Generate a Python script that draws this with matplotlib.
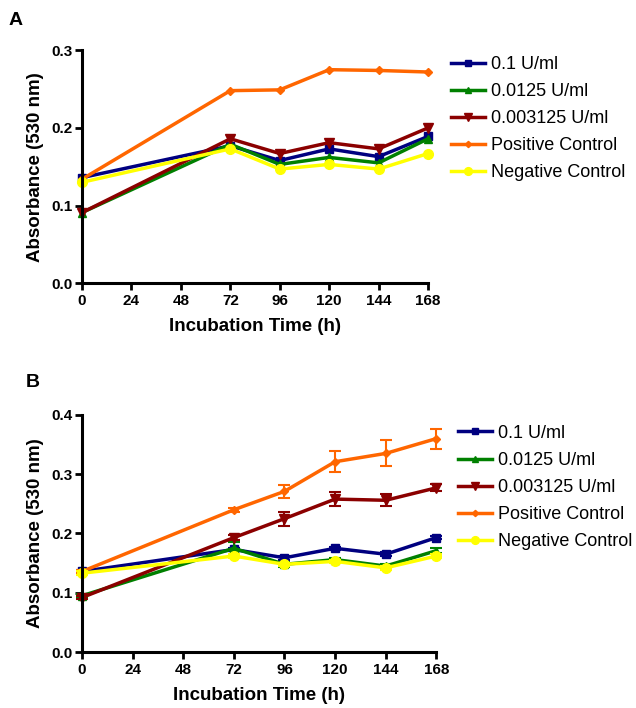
import matplotlib.pyplot as plt
import numpy as np

plt.rcParams["font.family"] = ["Liberation Sans", "DejaVu Sans"]

OUT = "out.png"

hours = [0, 72, 96, 120, 144, 168]
labels = ["0.1 U/ml", "0.0125 U/ml", "0.003125 U/ml",
          "Positive Control", "Negative Control"]
colors = ["#000080", "#008000", "#8b0000", "#ff6600", "#ffff00"]
markers = ["s", "^", "v", "D", "o"]
msizes = [6, 6, 7, 4, 7]

# ---------- panel A ----------
a_low = [0.136, 0.177, 0.158, 0.173, 0.163, 0.189]
a_mid = [0.091, 0.179, 0.153, 0.162, 0.155, 0.186]
a_high = [0.091, 0.186, 0.167, 0.181, 0.173, 0.200]
a_pos = [0.134, 0.248, 0.249, 0.275, 0.274, 0.272]
a_neg = [0.130, 0.173, 0.147, 0.153, 0.147, 0.167]

# ---------- panel B ----------
b_low = [0.136, 0.173, 0.159, 0.175, 0.165, 0.193]
b_mid = [0.095, 0.175, 0.148, 0.156, 0.145, 0.171]
b_high = [0.092, 0.193, 0.225, 0.258, 0.256, 0.277]
b_pos = [0.136, 0.240, 0.271, 0.321, 0.335, 0.360]
b_neg = [0.133, 0.162, 0.148, 0.153, 0.142, 0.162]

b_low_err = [0.003, 0.003, 0.003, 0.003, 0.003, 0.003]
b_mid_err = [0.003, 0.010, 0.004, 0.003, 0.003, 0.004]
b_high_err = [0.003, 0.004, 0.012, 0.012, 0.010, 0.006]
b_pos_err = [0.003, 0.003, 0.011, 0.018, 0.022, 0.017]
b_neg_err = [0.003, 0.003, 0.003, 0.003, 0.003, 0.003]

fig = plt.figure(figsize=(6.36, 7.08), dpi=100)
axA = fig.add_axes([0.129, 0.600, 0.544, 0.329])
axB = fig.add_axes([0.129, 0.079, 0.557, 0.335])


def style(ax, ymax):
    ax.set_xlim(0, 168)
    ax.set_ylim(0, ymax)
    ax.set_xticks(np.arange(0, 169, 24))
    ax.set_yticks(np.arange(0, ymax + 0.001, 0.1))
    ax.set_yticklabels([f"{v:.1f}" for v in np.arange(0, ymax + 0.001, 0.1)])
    for s in ["top", "right"]:
        ax.spines[s].set_visible(False)
    for s in ["left", "bottom"]:
        ax.spines[s].set_linewidth(2.2)
    ax.tick_params(width=2, length=5, labelsize=11, pad=2)
    ax.tick_params(axis="x", pad=3)
    for t in ax.get_xticklabels() + ax.get_yticklabels():
        t.set_fontweight("bold")
    ax.set_xlabel("Incubation Time (h)", fontsize=13.5, fontweight="bold", labelpad=7)
    ax.set_ylabel("Absorbance (530 nm)", fontsize=13.5, fontweight="bold", labelpad=5)


def legend(ax, x, y):
    ax.legend(loc="upper left", bbox_to_anchor=(x, y),
              bbox_transform=fig.transFigure, frameon=False,
              fontsize=13, handlelength=1.9, handletextpad=0.3,
              labelspacing=0.56, borderaxespad=0, borderpad=0, markerscale=0.8)


seriesA = [a_low, a_mid, a_high, a_pos, a_neg]
for y, lab, c, m, ms in zip(seriesA, labels, colors, markers, msizes):
    axA.plot(hours, y, color=c, marker=m, ms=ms, lw=2.5, label=lab, clip_on=False)
style(axA, 0.3)
legend(axA, 0.709, 0.921)

seriesB = [b_low, b_mid, b_high, b_pos, b_neg]
errsB = [b_low_err, b_mid_err, b_high_err, b_pos_err, b_neg_err]
for y, e, lab, c, m, ms in zip(seriesB, errsB, labels, colors, markers, msizes):
    axB.errorbar(hours, y, yerr=e, fmt="none", ecolor=c,
                 capsize=4, elinewidth=1.5, capthick=1.5, clip_on=False)
    axB.plot(hours, y, color=c, marker=m, ms=ms, lw=2.5, label=lab, clip_on=False)
style(axB, 0.4)
legend(axB, 0.720, 0.400)

fig.text(0.014, 0.965, "A", fontsize=14, fontweight="bold")
fig.text(0.041, 0.453, "B", fontsize=14, fontweight="bold")

fig.savefig(OUT, dpi=100, facecolor="white")
